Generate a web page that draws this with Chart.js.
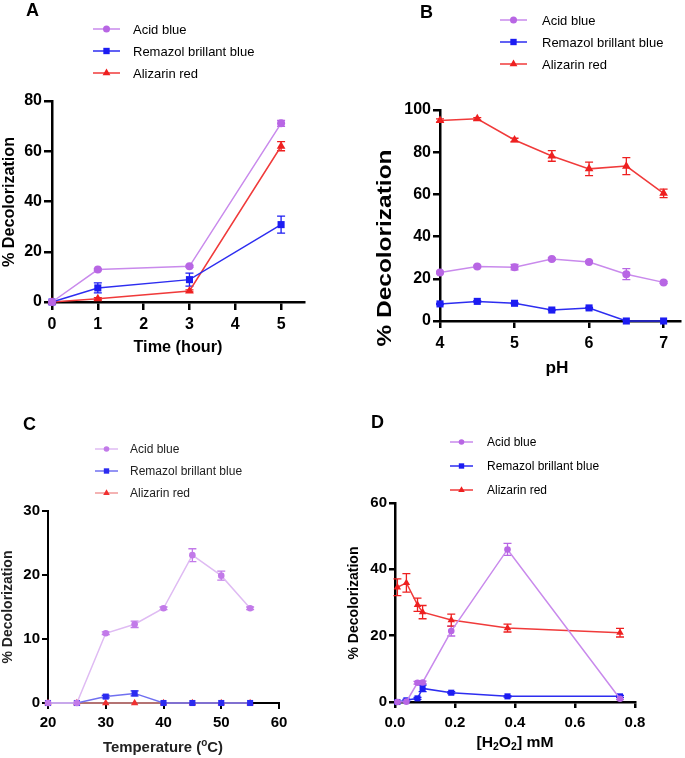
<!DOCTYPE html>
<html>
<head>
<meta charset="utf-8">
<script src="https://cdn.jsdelivr.net/npm/chart.js@4.4.1/dist/chart.umd.min.js"></script>
<style>
  html, body { margin: 0; padding: 0; background: #fff; }
  #wrap { position: relative; width: 685px; height: 758px; overflow: hidden; }
  #wrap canvas { position: absolute; left: 0; top: 0; }
</style>
</head>
<body>
<div id="wrap">
  <canvas id="chartA" width="685" height="758"></canvas>
  <canvas id="chartB" width="685" height="758"></canvas>
  <canvas id="chartC" width="685" height="758"></canvas>
  <canvas id="chartD" width="685" height="758"></canvas>
</div>
<script>
// --- Data ---
const seriesNames = ["Acid blue", "Remazol brillant blue", "Alizarin red"];

// A: time (hour)
const timeX = [0, 1, 3, 5];
const timeAcid = [0, 12.9, 14.2, 71.1];
const timeAcidErr = [0, 0.4, 0.4, 1.2];
const timeRemazol = [0, 5.6, 8.9, 30.8];
const timeRemazolErr = [0, 2.0, 2.6, 3.4];
const timeAlizarin = [0, 1.3, 4.4, 62.0];
const timeAlizarinErr = [0, 0.4, 0.4, 1.8];
const timeTicksX = [0, 1, 2, 3, 4, 5];
const timeTicksY = [0, 20, 40, 60, 80];

// B: pH
const phX = [4, 4.5, 5, 5.5, 6, 6.5, 7];
const phAcid = [23.0, 25.8, 25.5, 29.4, 28.0, 22.2, 18.3];
const phAcidErr = [0.5, 0.5, 1.3, 0.5, 0.5, 2.6, 0.5];
const phRemazol = [8.1, 9.3, 8.4, 5.2, 6.2, 0, 0];
const phRemazolErr = [0.3, 0.3, 0.3, 0.3, 0.3, 0, 0];
const phAlizarin = [95.0, 95.8, 85.8, 78.2, 72.1, 73.4, 60.5];
const phAlizarinErr = [0.8, 0.6, 0.8, 2.5, 3.2, 4.0, 2.0];
const phTicksX = [4, 5, 6, 7];
const phTicksY = [0, 20, 40, 60, 80, 100];

// C: temperature (oC)
const tempX = [20, 25, 30, 35, 40, 45, 50, 55];
const tempAcid = [0, 0, 10.9, 12.3, 14.8, 23.1, 19.9, 14.8];
const tempAcidErr = [0, 0, 0.2, 0.5, 0.2, 1.0, 0.7, 0.2];
const tempRemazol = [0, 0, 1.0, 1.5, 0, 0, 0, 0];
const tempRemazolErr = [0, 0, 0.2, 0.4, 0, 0, 0, 0];
const tempAlizarin = [0, 0, 0, 0, 0, 0, 0, 0];
const tempAlizarinErr = [0, 0, 0, 0, 0, 0, 0, 0];
const tempTicksX = [20, 30, 40, 50, 60];
const tempTicksY = [0, 10, 20, 30];

// D: [H2O2] mM
const h2o2X = [0.008, 0.038, 0.075, 0.092, 0.1875, 0.375, 0.75];
const h2o2Acid = [0, 0.1, 5.8, 5.9, 21.4, 46.0, 1.0];
const h2o2AcidErr = [0, 0, 0.4, 0.4, 1.5, 1.8, 0.3];
const h2o2Remazol = [0, 0.5, 1.1, 4.1, 2.8, 1.7, 1.7];
const h2o2RemazolErr = [0, 0.3, 0.3, 1.0, 0.3, 0.2, 0.3];
const h2o2Alizarin = [34.6, 35.9, 29.3, 27.1, 24.7, 22.3, 20.9];
const h2o2AlizarinErr = [2.5, 2.8, 2.0, 2.0, 1.8, 1.2, 1.3];
const h2o2TicksX = [0, 0.2, 0.4, 0.6, 0.8];
const h2o2TicksY = [0, 20, 40, 60];

// --- Styles ---
const FONT = "'Liberation Sans', Arial, Helvetica, sans-serif";
const Y_W = 44, X_H = 40;
const pointStyles = ["circle", "rect", "triangle"];
const pointSizes = [4, 5, 5];

const colorsMain = {
  line: ["#c98aec", "#2d2df0", "#f03a3a"],
  mark: ["#b866e4", "#1c1cf2", "#ee2020"]
};
const colorsC = {
  line: ["#dfbbf3", "#7070f0", "#f09a9a"],
  mark: ["#c27ae9", "#2b2bf0", "#f03030"]
};

// --- Drawing helpers ---
function drawMarker(ctx, style, x, y, r, color) {
  ctx.save();
  ctx.fillStyle = color;
  ctx.beginPath();
  if (style === "circle") {
    ctx.arc(x, y, r, 0, Math.PI * 2);
  } else if (style === "rect") {
    const s = r * Math.SQRT1_2;
    ctx.rect(x - s, y - s, 2 * s, 2 * s);
  } else {
    ctx.moveTo(x, y - r);
    ctx.lineTo(x + r * 0.866, y + r * 0.5);
    ctx.lineTo(x - r * 0.866, y + r * 0.5);
    ctx.closePath();
  }
  ctx.fill();
  ctx.restore();
}

// parts: [text, shift] where shift is 0, "sub" or "sup"
function fitText(ctx, parts, cx, cy, size, weight, width, rot, color) {
  ctx.save();
  const fontFor = (p) => `${weight} ${p[1] ? Math.round(size * 0.65) : size}px ${FONT}`;
  let total = 0;
  parts.forEach(p => { ctx.font = fontFor(p); total += ctx.measureText(p[0]).width; });
  const s = width ? width / total : 1;
  ctx.translate(cx, cy);
  ctx.rotate(rot || 0);
  ctx.scale(s, 1);
  ctx.fillStyle = color || "#000";
  ctx.textBaseline = "middle";
  ctx.textAlign = "left";
  let x = -total / 2;
  parts.forEach(p => {
    ctx.font = fontFor(p);
    let dy = 0;
    if (p[1] === "sub") dy = size * 0.3;
    if (p[1] === "sup") dy = -size * 0.32;
    ctx.fillText(p[0], x, dy);
    x += ctx.measureText(p[0]).width;
  });
  ctx.restore();
}

// --- Plugins ---
const errorBars = {
  id: "errorBars",
  beforeDatasetsDraw(chart) {
    const { ctx, scales: { x, y } } = chart;
    chart.data.datasets.forEach(ds => {
      if (!ds.errors) return;
      ctx.save();
      ctx.strokeStyle = ds.pointBackgroundColor;
      ctx.lineWidth = 1.3;
      ds.data.forEach((p, j) => {
        const e = ds.errors[j];
        if (!e) return;
        const px = x.getPixelForValue(p.x);
        const top = y.getPixelForValue(p.y + e);
        const bot = y.getPixelForValue(Math.max(p.y - e, 0));
        ctx.beginPath();
        ctx.moveTo(px, top); ctx.lineTo(px, bot);
        ctx.moveTo(px - 4, top); ctx.lineTo(px + 4, top);
        ctx.moveTo(px - 4, bot); ctx.lineTo(px + 4, bot);
        ctx.stroke();
      });
      ctx.restore();
    });
  }
};

const panelText = {
  id: "panelText",
  afterDraw(chart, args, opts) {
    const ctx = chart.ctx;
    const tc = opts.textColor || "#000";
    // panel letter
    ctx.save();
    ctx.font = `bold 18px ${FONT}`;
    ctx.fillStyle = "#000";
    ctx.textBaseline = "alphabetic";
    ctx.fillText(opts.letter, opts.letterX, opts.letterY);
    ctx.restore();
    // legend
    const lg = opts.legend;
    chart.data.datasets.forEach((ds, i) => {
      const ry = lg.rows[i];
      ctx.save();
      ctx.strokeStyle = ds.borderColor;
      ctx.lineWidth = 1.5;
      ctx.beginPath();
      ctx.moveTo(lg.x0, ry); ctx.lineTo(lg.x1, ry);
      ctx.stroke();
      ctx.restore();
      drawMarker(ctx, ds.pointStyle, (lg.x0 + lg.x1) / 2, ry, ds.pointRadius - 0.5, ds.pointBackgroundColor);
      ctx.save();
      ctx.font = `${lg.size}px ${FONT}`;
      ctx.fillStyle = tc;
      ctx.textBaseline = "middle";
      ctx.fillText(ds.label, lg.textX, ry + 1);
      ctx.restore();
    });
    // axis titles
    const xt = opts.xTitle, yt = opts.yTitle;
    fitText(ctx, xt.parts, xt.x, xt.y, xt.size, "bold", xt.width, 0, tc);
    fitText(ctx, yt.parts, yt.x, yt.y, yt.size, "bold", yt.width, -Math.PI / 2, tc);
  }
};

// --- Chart builder ---
function makePanel(id, cfg) {
  const pal = cfg.colors;
  const datasets = cfg.series.map((s, i) => ({
    label: seriesNames[i],
    data: cfg.xs.map((x, j) => ({ x, y: s[j] })),
    errors: cfg.errs[i],
    borderColor: pal.line[i],
    backgroundColor: pal.mark[i],
    pointBackgroundColor: pal.mark[i],
    pointBorderColor: pal.mark[i],
    pointBorderWidth: 0,
    pointStyle: pointStyles[i],
    pointRadius: pointSizes[i] - (cfg.small ? 0.7 : 0),
    borderWidth: 1.5,
    tension: 0,
    clip: false
  }));
  const a = cfg.area;
  const tickFont = { family: FONT, size: cfg.tickSize, weight: "bold" };
  const axisBase = {
    type: "linear",
    grid: { drawOnChartArea: false, drawTicks: true, tickLength: cfg.tickLen, lineWidth: cfg.axisW, color: "#000" },
    border: { display: true, color: "#000", width: cfg.axisW }
  };
  new Chart(document.getElementById(id), {
    type: "line",
    data: { datasets },
    options: {
      responsive: false,
      animation: false,
      events: [],
      layout: {
        padding: { left: a.left - Y_W, right: 685 - a.right, top: a.top, bottom: 758 - a.bottom - X_H }
      },
      plugins: {
        legend: { display: false },
        tooltip: { enabled: false },
        panelText: cfg.text
      },
      scales: {
        x: Object.assign({}, axisBase, {
          min: cfg.xMin, max: cfg.xMax,
          afterBuildTicks: s => { s.ticks = cfg.xTicks.map(v => ({ value: v })); },
          afterFit: s => { s.height = X_H; },
          ticks: { font: tickFont, color: "#000", padding: cfg.xPad, maxRotation: 0, autoSkip: false, callback: cfg.xFmt || (v => String(v)) }
        }),
        y: Object.assign({}, axisBase, {
          min: cfg.yMin, max: cfg.yMax,
          afterBuildTicks: s => { s.ticks = cfg.yTicks.map(v => ({ value: v })); },
          afterFit: s => { s.width = Y_W; },
          ticks: { font: tickFont, color: "#000", padding: 2, autoSkip: false, callback: v => String(v) }
        })
      }
    },
    plugins: [errorBars, panelText]
  });
}

// --- Panels ---
makePanel("chartA", {
  xs: timeX,
  series: [timeAcid, timeRemazol, timeAlizarin],
  errs: [timeAcidErr, timeRemazolErr, timeAlizarinErr],
  colors: colorsMain,
  area: { left: 52, right: 304, top: 101, bottom: 302 },
  xMin: 0, xMax: 5.5, yMin: 0, yMax: 80,
  xTicks: timeTicksX, yTicks: timeTicksY,
  tickSize: 16, tickLen: 8, axisW: 2.5, xPad: 5,
  text: {
    letter: "A", letterX: 26, letterY: 16,
    legend: { x0: 93, x1: 120, textX: 133, rows: [29, 51, 73], size: 13 },
    xTitle: { parts: [["Time (hour)", 0]], x: 178, y: 348, size: 16, width: 89 },
    yTitle: { parts: [["% Decolorization", 0]], x: 10, y: 202, size: 16, width: 130 }
  }
});

makePanel("chartB", {
  xs: phX,
  series: [phAcid, phRemazol, phAlizarin],
  errs: [phAcidErr, phRemazolErr, phAlizarinErr],
  colors: colorsMain,
  area: { left: 440, right: 685, top: 110, bottom: 321 },
  xMin: 4, xMax: 7.22, yMin: 0, yMax: 100,
  xTicks: phTicksX, yTicks: phTicksY,
  tickSize: 16, tickLen: 7, axisW: 2.5, xPad: 6,
  text: {
    letter: "B", letterX: 420, letterY: 18,
    legend: { x0: 500, x1: 527, textX: 542, rows: [20, 42, 64], size: 13 },
    xTitle: { parts: [["pH", 0]], x: 557, y: 368, size: 17, width: 23 },
    yTitle: { parts: [["% Decolorization", 0]], x: 385, y: 248, size: 20, width: 197 }
  }
});

makePanel("chartC", {
  xs: tempX,
  series: [tempAcid, tempRemazol, tempAlizarin],
  errs: [tempAcidErr, tempRemazolErr, tempAlizarinErr],
  colors: colorsC,
  small: true,
  area: { left: 48, right: 279, top: 511, bottom: 703 },
  xMin: 20, xMax: 60, yMin: 0, yMax: 30,
  xTicks: tempTicksX, yTicks: tempTicksY,
  tickSize: 15, tickLen: 6, axisW: 2, xPad: 5,
  text: {
    letter: "C", letterX: 23, letterY: 430, textColor: "#222",
    legend: { x0: 95, x1: 118, textX: 130, rows: [449, 471, 493], size: 12 },
    xTitle: { parts: [["Temperature (", 0], ["o", "sup"], ["C)", 0]], x: 163, y: 748, size: 15, width: 120 },
    yTitle: { parts: [["% Decolorization", 0]], x: 8, y: 607, size: 15, width: 113 }
  }
});

makePanel("chartD", {
  xs: h2o2X,
  series: [h2o2Acid, h2o2Remazol, h2o2Alizarin],
  errs: [h2o2AcidErr, h2o2RemazolErr, h2o2AlizarinErr],
  colors: colorsMain,
  small: true,
  area: { left: 395, right: 635, top: 503, bottom: 702 },
  xMin: 0, xMax: 0.8, yMin: 0, yMax: 60,
  xTicks: h2o2TicksX, yTicks: h2o2TicksY,
  xFmt: v => v.toFixed(1),
  tickSize: 15, tickLen: 6, axisW: 2.5, xPad: 6,
  text: {
    letter: "D", letterX: 371, letterY: 428,
    legend: { x0: 450, x1: 473, textX: 487, rows: [442, 466, 490], size: 12 },
    xTitle: { parts: [["[H", 0], ["2", "sub"], ["O", 0], ["2", "sub"], ["] mM", 0]], x: 515, y: 743, size: 15, width: 77 },
    yTitle: { parts: [["% Decolorization", 0]], x: 354, y: 603, size: 15, width: 113 }
  }
});
</script>
</body>
</html>
